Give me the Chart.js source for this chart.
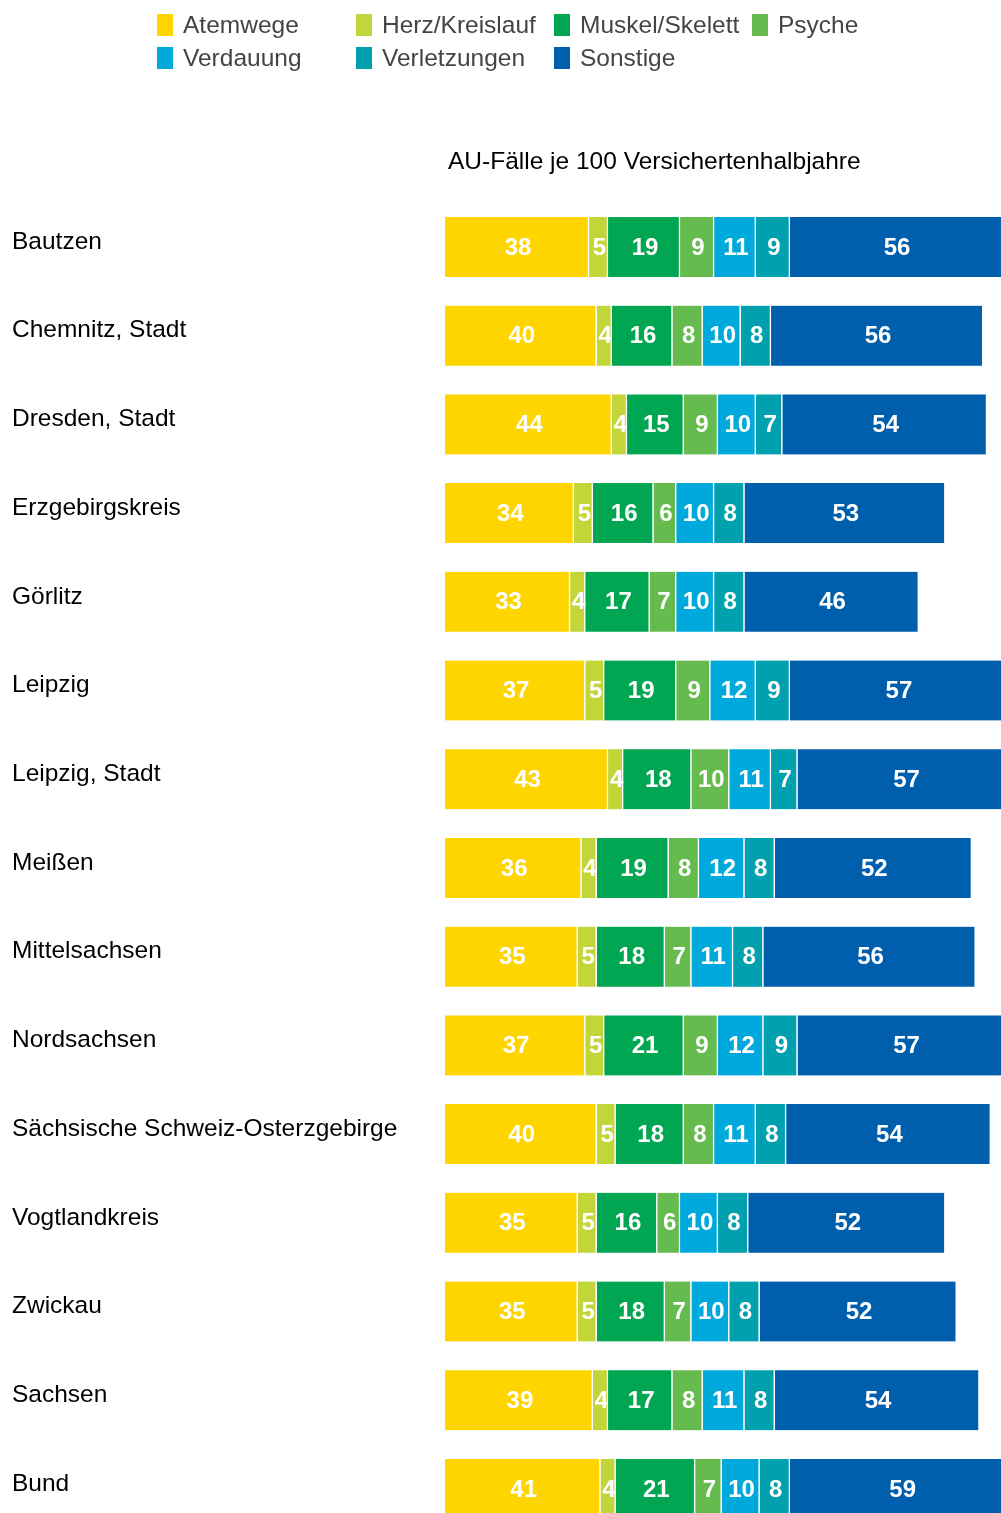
<!DOCTYPE html>
<html>
<head>
<meta charset="utf-8">
<script src="https://cdn.jsdelivr.net/npm/chart.js"></script>
<style>
  html, body { margin: 0; padding: 0; background: #fff; overflow: hidden; }
  #wrap { position: relative; width: 1001px; height: 1554px; }
</style>
</head>
<body>
<div id="wrap"><canvas id="chart" width="1001" height="1554"></canvas></div>
<script>
// Kreise / Regionen
const regions = [
  'Bautzen', 'Chemnitz, Stadt', 'Dresden, Stadt', 'Erzgebirgskreis', 'Görlitz',
  'Leipzig', 'Leipzig, Stadt', 'Meißen', 'Mittelsachsen', 'Nordsachsen',
  'Sächsische Schweiz-Osterzgebirge', 'Vogtlandkreis', 'Zwickau', 'Sachsen', 'Bund'
];

// AU-Fälle je 100 Versichertenhalbjahre, nach Diagnosegruppe
const atemwege     = [38, 40, 44, 34, 33, 37, 43, 36, 35, 37, 40, 35, 35, 39, 41];
const herzKreis    = [ 5,  4,  4,  5,  4,  5,  4,  4,  5,  5,  5,  5,  5,  4,  4];
const muskel       = [19, 16, 15, 16, 17, 19, 18, 19, 18, 21, 18, 16, 18, 17, 21];
const psyche       = [ 9,  8,  9,  6,  7,  9, 10,  8,  7,  9,  8,  6,  7,  8,  7];
const verdauung    = [11, 10, 10, 10, 10, 12, 11, 12, 11, 12, 11, 10, 10, 11, 10];
const verletzungen = [ 9,  8,  7,  8,  8,  9,  7,  8,  8,  9,  8,  8,  8,  8,  8];
const sonstige     = [56, 56, 54, 53, 46, 57, 57, 52, 56, 57, 54, 52, 52, 54, 59];

const seriesNames  = ['Atemwege', 'Herz/Kreislauf', 'Muskel/Skelett', 'Psyche', 'Verdauung', 'Verletzungen', 'Sonstige'];
const seriesValues = [atemwege, herzKreis, muskel, psyche, verdauung, verletzungen, sonstige];
const seriesColors = ['#ffd500', '#c2d63a', '#00a651', '#66bb4f', '#00a9db', '#00a0ae', '#005fad'];

const chartTitle = 'AU-Fälle je 100 Versichertenhalbjahre';

const FONT = '"Liberation Sans", Arial, sans-serif';

// legend grid: row 1 has four entries, row 2 three
const legendCols = [157, 356, 554, 752];
const legendRows = [25, 58];

const valueLabels = {
  id: 'valueLabels',
  afterDatasetsDraw(chart) {
    const ctx = chart.ctx;
    ctx.save();
    ctx.font = 'bold 24px ' + FONT;
    ctx.fillStyle = '#ffffff';
    ctx.textAlign = 'center';
    ctx.textBaseline = 'middle';
    chart.data.datasets.forEach((ds, i) => {
      chart.getDatasetMeta(i).data.forEach((bar, j) => {
        ctx.fillText(String(ds.data[j]), (bar.x + bar.base) / 2 + 1, bar.y + 1);
      });
    });
    ctx.restore();
  }
};

const headerPlugin = {
  id: 'header',
  afterDraw(chart) {
    const ctx = chart.ctx;
    ctx.save();
    // legend
    ctx.font = '24.5px ' + FONT;
    ctx.textBaseline = 'middle';
    ctx.textAlign = 'left';
    seriesNames.forEach((name, i) => {
      const col = i < 4 ? i : i - 4;
      const row = i < 4 ? 0 : 1;
      const x = legendCols[col], y = legendRows[row];
      ctx.fillStyle = seriesColors[i];
      ctx.fillRect(x, y - 11, 16, 22);
      ctx.fillStyle = '#444444';
      ctx.fillText(name, x + 26, y + 1);
    });
    // title
    ctx.fillStyle = '#000';
    ctx.font = '24.5px ' + FONT;
    ctx.fillText(chartTitle, 448, 162);
    ctx.restore();
  }
};

new Chart(document.getElementById('chart'), {
  type: 'bar',
  data: {
    labels: regions,
    datasets: seriesNames.map((name, i) => ({
      label: name,
      data: seriesValues[i],
      backgroundColor: seriesColors[i],
      borderColor: '#ffffff',
      borderWidth: { top: 0, bottom: 0, left: 0, right: 1.5 },
      borderSkipped: false,
      barThickness: 60
    }))
  },
  options: {
    indexAxis: 'y',
    responsive: false,
    animation: false,
    devicePixelRatio: 1,
    layout: { padding: { left: 12, right: 0, top: 202.6, bottom: 20.7 } },
    plugins: {
      legend: { display: false },
      title: { display: false },
      tooltip: { enabled: false }
    },
    scales: {
      x: {
        stacked: true,
        display: false,
        min: 0,
        max: 146.7
      },
      y: {
        stacked: true,
        grid: { display: false },
        border: { display: false },
        afterFit(scale) { scale.width = 433; },
        ticks: {
          crossAlign: 'far',
          padding: 0,
          labelOffset: -5,
          color: '#000',
          font: { family: FONT, size: 24.5 }
        }
      }
    }
  },
  plugins: [valueLabels, headerPlugin]
});
</script>
</body>
</html>
